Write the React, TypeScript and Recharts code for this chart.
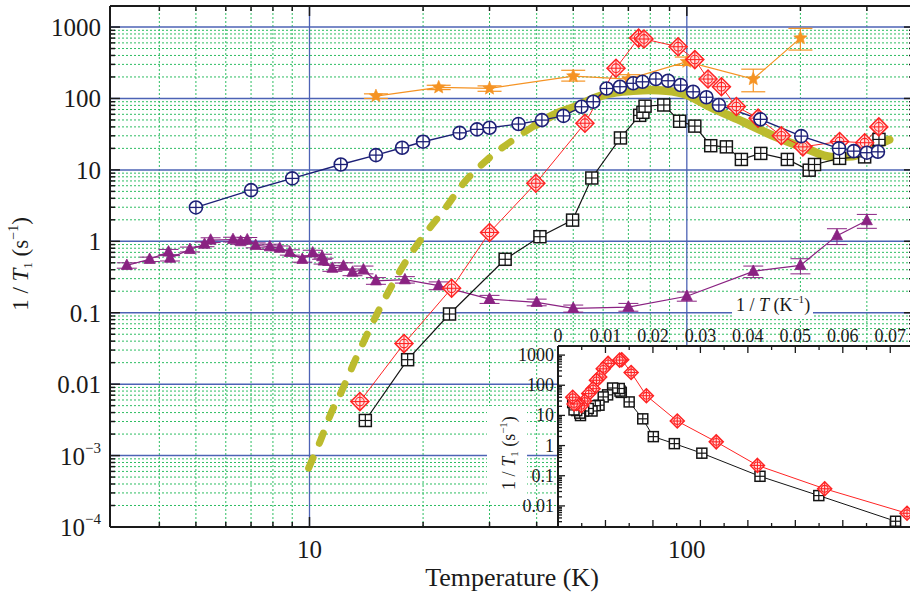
import React from 'react';
import { ComposedChart, Line, XAxis, YAxis, ReferenceLine, ErrorBar } from 'recharts';

const FONT = '"Liberation Serif", "Times New Roman", Times, serif';
const INK = '#1a1a1a';
const NAVY = '#1d2077';
const PURPLE = '#8a2282';
const ORANGE = '#f59323';
const RED = '#ff2424';
const BLACK = '#151515';
const OLIVE = '#bcbb2e';
const GRID_BLUE = '#4d63b5';
const GRID_GREEN = '#2dbd62';

const W = 920;
const H = 603;
const X_DOMAIN: [number, number] = [2.96, 400];
const Y_DOMAIN: [number, number] = [0.0001, 1970];
const IX_DOMAIN: [number, number] = [0, 0.075];
const IY_DOMAIN: [number, number] = [0.002, 2000];

// ---------------- data ----------------
const purpleT = [3.28, 3.77, 4.23, 4.27, 4.82, 5.27, 5.47, 6.27, 6.57, 6.84, 7.2, 7.85, 8.34, 8.87, 9.57, 10.2, 10.8, 10.9, 11.5, 12.3, 13.0, 13.9, 15.0, 17.9, 22.0, 30, 40, 50, 70, 100, 150, 200, 250, 300];
const purpleY = [0.46, 0.56, 0.71, 0.58, 0.77, 0.91, 1.04, 1.06, 0.99, 1.05, 0.88, 0.84, 0.8, 0.7, 0.56, 0.69, 0.61, 0.53, 0.42, 0.45, 0.37, 0.4, 0.28, 0.29, 0.24, 0.155, 0.14, 0.115, 0.12, 0.17, 0.38, 0.46, 1.2, 1.95];
const purpleErr = [0.04, 0.04, 0.06, 0.05, 0.06, 0.07, 0.08, 0.08, 0.08, 0.08, 0.07, 0.07, 0.06, 0.06, 0.05, 0.06, 0.05, 0.05, 0.04, 0.05, 0.04, 0.05, 0.03, 0.03, 0.03, 0.02, 0.015, 0.013, 0.015, 0.025, 0.07, 0.11, 0.3, 0.43];

const navyT = [5.0, 7.0, 9.0, 12.1, 15.0, 17.6, 20.0, 25.0, 27.8, 30.0, 35.8, 41.3, 47.1, 52.6, 56.5, 61.3, 66.5, 72.1, 76.3, 82.8, 89.2, 96.3, 103.9, 112.7, 121.6, 156.7, 201, 253, 277, 300, 321];
const navyY = [2.98, 5.2, 7.6, 11.9, 16.1, 20.4, 24.8, 33, 36.9, 38.9, 43.8, 49.8, 57, 76.5, 90, 138, 146, 163, 171, 187, 177, 154, 124, 104, 81, 51, 29.7, 20, 18.3, 17.4, 17.9];

const orangeT = [15, 22, 30, 50, 70, 100, 150, 200];
const orangeY = [108, 143, 138, 206, 187, 327, 187, 700];
const orangeErrLo = [8, 10, 12, 31, 22, 37, 63, 224];
const orangeErrHi = [8, 10, 12, 42, 28, 53, 70, 258];

const redT = [13.6, 17.8, 23.8, 30.0, 39.8, 53.7, 64.9, 74.5, 77, 94.8, 105, 113.8, 123.5, 135.3, 154.5, 178, 203, 254, 296, 322.7];
const redY = [0.0057, 0.037, 0.22, 1.33, 6.5, 45, 265, 700, 680, 530, 350, 187, 146, 77, 53, 30, 21, 25, 24, 40];

const blackT = [14.06, 18.2, 23.5, 33.0, 40.8, 49.8, 56, 66.7, 75, 76.5, 77.5, 86.9, 95.7, 105, 115.7, 127.3, 139.5, 157, 184.7, 211, 218, 254, 296, 323];
const blackY = [0.0031, 0.022, 0.096, 0.56, 1.16, 1.98, 7.7, 28, 58, 64, 78, 81, 48, 41, 21.8, 21, 14, 17, 14, 9.9, 11.9, 14.5, 15.2, 26.7];

const oliveDashT = [9.95, 10.7, 11.4, 12.2, 13.1, 16.1, 18.1, 20.3, 22.7, 25.6, 29.5, 34.8, 39.7];
const oliveDashY = [0.00067, 0.00164, 0.0039, 0.0082, 0.0195, 0.186, 0.546, 1.29, 2.73, 6.5, 13.7, 26.7, 42.4];
const oliveSolidT = [39.7, 44.3, 51, 58.9, 65.1, 72, 80, 88.2, 100, 115, 141, 172, 206.6, 242, 275, 311, 344];
const oliveSolidY = [42.4, 58.6, 78, 108, 122, 128, 131, 128, 112, 76.5, 47, 29, 20, 15.2, 15.5, 21, 26.5];

// ---------------- ticks ----------------
const MULT = [2, 3, 4, 5, 6, 7, 8, 9];
const mainYMajor = [0.0001, 0.001, 0.01, 0.1, 1, 10, 100, 1000];
const mainYLabels = [['10', '−4'], ['10', '−3'], ['0.01', ''], ['0.1', ''], ['1', ''], ['10', ''], ['100', ''], ['1000', '']];
const mainYMinor = mainYMajor.flatMap((d) => MULT.map((m) => Number((d * m).toPrecision(2)))).filter((v) => v < 1970);
const mainYTicks = [...mainYMajor, ...mainYMinor].sort((a, b) => a - b);

const mainXMajor = [10, 100];
const mainXLabels = ['10', '100'];
const mainXMinor = [4, 5, 6, 7, 8, 9, 20, 30, 40, 50, 60, 70, 80, 90, 200, 300];
const mainXTicks = [...mainXMajor, ...mainXMinor].sort((a, b) => a - b);

const insetXMajor = [0, 0.01, 0.02, 0.03, 0.04, 0.05, 0.06, 0.07];
const insetXLabels = ['0', '0.01', '0.02', '0.03', '0.04', '0.05', '0.06', '0.07'];
const insetXMinor = [0.005, 0.015, 0.025, 0.035, 0.045, 0.055, 0.065];
const insetXTicks = [...insetXMajor, ...insetXMinor].sort((a, b) => a - b);

const insetYMajor = [0.01, 0.1, 1, 10, 100, 1000];
const insetYLabels = ['0.01', '0.1', '1', '10', '100', '1000'];
const insetYMinor = [0.001, ...insetYMajor].flatMap((d) => MULT.map((m) => Number((d * m).toPrecision(2)))).filter((v) => v > 0.002 && v < 2000);
const insetYTicks = [...insetYMajor, ...insetYMinor].sort((a, b) => a - b);

// ---------------- series tables ----------------
const purpleData = purpleT.map((x, i) => ({ x, y: purpleY[i], err: purpleErr[i] }));
const navyData = navyT.map((x, i) => ({ x, y: navyY[i] }));
const orangeData = orangeT.map((x, i) => ({ x, y: orangeY[i], err: [orangeErrLo[i], orangeErrHi[i]] }));
const redData = redT.map((x, i) => ({ x, y: redY[i] }));
const blackData = blackT.map((x, i) => ({ x, y: blackY[i] }));
const oliveDashData = oliveDashT.map((x, i) => ({ x, y: oliveDashY[i] }));
const oliveSolidData = oliveSolidT.map((x, i) => ({ x, y: oliveSolidY[i] }));
const redInset = redT.map((t, i) => ({ x: 1 / t, y: redY[i] }));
const blackInset = blackT.map((t, i) => ({ x: 1 / t, y: blackY[i] }));

const idxOf = (v: number, arr: number[]) =>
  arr.findIndex((a) => Math.abs(a - v) <= 1e-6 * Math.abs(a) + 1e-12);

// ---------------- markers ----------------
function CircPlus({ cx, cy, r }: any) {
  return (
    <g>
      <circle cx={cx} cy={cy} r={r} fill="#fff" stroke={NAVY} strokeWidth={1.6} />
      <line x1={cx - r} x2={cx + r} y1={cy} y2={cy} stroke={NAVY} strokeWidth={1.3} />
      <line x1={cx} x2={cx} y1={cy - r} y2={cy + r} stroke={NAVY} strokeWidth={1.3} />
    </g>
  );
}
function DiamondMark({ cx, cy, r }: any) {
  const pts = `${cx},${cy - r} ${cx + r},${cy} ${cx},${cy + r} ${cx - r},${cy}`;
  return (
    <g>
      <polygon points={pts} fill="#ffe2e2" fillOpacity={0.85} stroke={RED} strokeWidth={1.5} />
      <circle cx={cx} cy={cy} r={r * 0.48} fill="none" stroke={RED} strokeWidth={1.1} />
      <line x1={cx - r} x2={cx + r} y1={cy} y2={cy} stroke={RED} strokeWidth={1.1} />
      <line x1={cx} x2={cx} y1={cy - r} y2={cy + r} stroke={RED} strokeWidth={1.1} />
    </g>
  );
}
function SquareGrid({ cx, cy, r }: any) {
  return (
    <g>
      <rect x={cx - r} y={cy - r} width={2 * r} height={2 * r} fill="#fff" stroke={BLACK} strokeWidth={1.5} />
      <line x1={cx - r} x2={cx + r} y1={cy} y2={cy} stroke={BLACK} strokeWidth={1.2} />
      <line x1={cx} x2={cx} y1={cy - r} y2={cy + r} stroke={BLACK} strokeWidth={1.2} />
    </g>
  );
}
function TriMark({ cx, cy, r }: any) {
  const pts = `${cx},${cy - r * 1.15} ${cx + r},${cy + r * 0.75} ${cx - r},${cy + r * 0.75}`;
  return <polygon points={pts} fill={PURPLE} stroke={PURPLE} strokeWidth={0.8} />;
}
function StarMark({ cx, cy, r }: any) {
  const pts: string[] = [];
  for (let k = 0; k < 10; k++) {
    const rr = k % 2 === 0 ? r : r * 0.45;
    const a = -Math.PI / 2 + (k * Math.PI) / 5;
    pts.push(`${cx + rr * Math.cos(a)},${cy + rr * Math.sin(a)}`);
  }
  return <polygon points={pts.join(' ')} fill={ORANGE} stroke={ORANGE} strokeWidth={0.6} />;
}
const dotOf = (Comp: any, r: number) => (p: any) => {
  if (p == null || p.cx == null || p.cy == null || isNaN(p.cx) || isNaN(p.cy)) return <g key={`e${p?.index}`} />;
  return <Comp key={`d${p.index}`} cx={p.cx} cy={p.cy} r={r} />;
};

// ---------------- ticks renderers ----------------
function MainYTick(props: any) {
  const { x, y, payload } = props;
  const i = idxOf(payload.value, mainYMajor);
  const major = i >= 0;
  return (
    <g>
      <line x1={x} x2={x + (major ? 10 : 5)} y1={y} y2={y} stroke={INK} strokeWidth={1.5} />
      {major && (
        <text x={x - 9} y={y + 9} textAnchor="end" fontFamily={FONT} fontSize={25} fill={INK}>
          <tspan>{mainYLabels[i][0]}</tspan>
          {mainYLabels[i][1] ? (
            <tspan dy={-12} fontSize={15}>
              {mainYLabels[i][1]}
            </tspan>
          ) : null}
        </text>
      )}
    </g>
  );
}
function RightTick(props: any) {
  const { x, y, payload } = props;
  const major = idxOf(payload.value, mainYMajor) >= 0;
  return <line x1={x} x2={x - (major ? 10 : 5)} y1={y} y2={y} stroke={INK} strokeWidth={1.5} />;
}
function MainXTick(props: any) {
  const { x, y, payload } = props;
  const i = idxOf(payload.value, mainXMajor);
  const major = i >= 0;
  return (
    <g>
      <line x1={x} x2={x} y1={y} y2={y - (major ? 10 : 5)} stroke={INK} strokeWidth={1.5} />
      {major && (
        <text x={x} y={y + 31} textAnchor="middle" fontFamily={FONT} fontSize={25} fill={INK}>
          {mainXLabels[i]}
        </text>
      )}
    </g>
  );
}
function TopTick(props: any) {
  const { x, y, payload } = props;
  const major = idxOf(payload.value, mainXMajor) >= 0;
  return <line x1={x} x2={x} y1={y} y2={y + (major ? 10 : 5)} stroke={INK} strokeWidth={1.5} />;
}
function InsetTopTick(props: any) {
  const { x, y, payload } = props;
  const i = idxOf(payload.value, insetXMajor);
  const major = i >= 0;
  return (
    <g>
      <line x1={x} x2={x} y1={y} y2={y + (major ? 7 : 4)} stroke={INK} strokeWidth={1.3} />
      {major && (
        <text x={x} y={y - 4} textAnchor="middle" fontFamily={FONT} fontSize={18} fill={INK}>
          {insetXLabels[i]}
        </text>
      )}
    </g>
  );
}
function InsetBotTick(props: any) {
  const { x, y, payload } = props;
  const major = idxOf(payload.value, insetXMajor) >= 0;
  return <line x1={x} x2={x} y1={y} y2={y - (major ? 7 : 4)} stroke={INK} strokeWidth={1.3} />;
}
function InsetYTick(props: any) {
  const { x, y, payload } = props;
  const i = idxOf(payload.value, insetYMajor);
  const major = i >= 0;
  return (
    <g>
      <line x1={x} x2={x + (major ? 7 : 4)} y1={y} y2={y} stroke={INK} strokeWidth={1.3} />
      {major && (
        <text x={x - 4} y={y + 6} textAnchor="end" fontFamily={FONT} fontSize={18} fill={INK}>
          {insetYLabels[i]}
        </text>
      )}
    </g>
  );
}

const axisLine = { stroke: INK, strokeWidth: 2 };
const common = { tickSize: 0, tickMargin: 0, tickLine: false, interval: 0 as const, allowDataOverflow: true };

export default function App() {
  return (
    <div style={{ position: 'absolute', left: 0, top: 0, width: 910, height: 603, overflow: 'hidden', background: '#fff' }}>
      {/* grid layer */}
      <div style={{ position: 'absolute', left: 0, top: 0 }}>
        <ComposedChart width={W} height={H} margin={{ top: 6, right: 6, bottom: 76, left: 110 }}>
          <XAxis hide type="number" scale="log" dataKey="x" domain={X_DOMAIN} allowDataOverflow />
          <YAxis hide type="number" scale="log" domain={Y_DOMAIN} allowDataOverflow />
          {mainYMinor.map((v) => (
            <ReferenceLine key={`gy${v}`} y={v} stroke={GRID_GREEN} strokeDasharray="2 2" strokeWidth={1} />
          ))}
          {mainXMinor.map((v) => (
            <ReferenceLine key={`gx${v}`} x={v} stroke={GRID_GREEN} strokeDasharray="2 2" strokeWidth={1} />
          ))}
          {mainYMajor.map((v) => (
            <ReferenceLine key={`My${v}`} y={v} stroke={GRID_BLUE} strokeWidth={1.5} />
          ))}
          {mainXMajor.map((v) => (
            <ReferenceLine key={`Mx${v}`} x={v} stroke={GRID_BLUE} strokeWidth={1.3} />
          ))}
        </ComposedChart>
      </div>

      {/* main series + axes */}
      <div style={{ position: 'absolute', left: 0, top: 0 }}>
        <ComposedChart width={W} height={H} margin={{ top: 0, right: 0, bottom: 0, left: 0 }}>
          <XAxis type="number" scale="log" dataKey="x" domain={X_DOMAIN} height={76} ticks={mainXTicks} tick={<MainXTick />} axisLine={axisLine} {...common} />
          <XAxis xAxisId="top" orientation="top" type="number" scale="log" dataKey="x" domain={X_DOMAIN} height={6} ticks={mainXTicks} tick={<TopTick />} axisLine={axisLine} {...common} />
          <YAxis type="number" scale="log" domain={Y_DOMAIN} width={110} ticks={mainYTicks} tick={<MainYTick />} axisLine={axisLine} {...common} />
          <YAxis yAxisId="right" orientation="right" type="number" scale="log" domain={Y_DOMAIN} width={6} ticks={mainYTicks} tick={<RightTick />} axisLine={axisLine} {...common} />

          <Line data={oliveDashData} dataKey="y" type="monotone" stroke={OLIVE} strokeWidth={7} strokeLinecap="round" strokeDasharray="11 16" dot={false} activeDot={false} isAnimationActive={false} />
          <Line data={oliveSolidData} dataKey="y" type="monotone" stroke={OLIVE} strokeWidth={8.5} strokeLinecap="round" dot={false} activeDot={false} isAnimationActive={false} />
          <Line data={purpleData} dataKey="y" stroke={PURPLE} strokeWidth={1.2} dot={dotOf(TriMark, 5.5)} activeDot={false} isAnimationActive={false}>
            <ErrorBar dataKey="err" direction="y" width={10} stroke={PURPLE} strokeWidth={1} />
          </Line>
          <Line data={orangeData} dataKey="y" stroke={ORANGE} strokeWidth={1.2} dot={dotOf(StarMark, 7)} activeDot={false} isAnimationActive={false}>
            <ErrorBar dataKey="err" direction="y" width={12} stroke={ORANGE} strokeWidth={1.2} />
          </Line>
          <Line data={blackData} dataKey="y" stroke={BLACK} strokeWidth={1.2} dot={dotOf(SquareGrid, 6)} activeDot={false} isAnimationActive={false} />
          <Line data={redData} dataKey="y" stroke={RED} strokeWidth={1} dot={dotOf(DiamondMark, 9)} activeDot={false} isAnimationActive={false} />
          <Line data={navyData} dataKey="y" stroke={NAVY} strokeWidth={1.4} dot={dotOf(CircPlus, 6.5)} activeDot={false} isAnimationActive={false} />
        </ComposedChart>
      </div>

      {/* inset background */}
      <div style={{ position: 'absolute', left: 558, top: 346, width: 360, height: 181, background: '#fff' }} />

      {/* inset chart */}
      <div style={{ position: 'absolute', left: 0, top: 0 }}>
        <ComposedChart width={W} height={H} margin={{ top: 306, right: 6, bottom: 46, left: 508 }}>
          <XAxis xAxisId="t" orientation="top" type="number" dataKey="x" domain={IX_DOMAIN} height={40} ticks={insetXTicks} tick={<InsetTopTick />} axisLine={axisLine} {...common} />
          <XAxis xAxisId="b" orientation="bottom" type="number" dataKey="x" domain={IX_DOMAIN} height={30} ticks={insetXTicks} tick={<InsetBotTick />} axisLine={axisLine} {...common} />
          <YAxis type="number" scale="log" domain={IY_DOMAIN} width={50} ticks={insetYTicks} tick={<InsetYTick />} axisLine={axisLine} {...common} />
          <Line xAxisId="t" data={blackInset} dataKey="y" stroke={BLACK} strokeWidth={1} dot={dotOf(SquareGrid, 5)} activeDot={false} isAnimationActive={false} />
          <Line xAxisId="t" data={redInset} dataKey="y" stroke={RED} strokeWidth={1} dot={dotOf(DiamondMark, 7)} activeDot={false} isAnimationActive={false} />
        </ComposedChart>
      </div>

      {/* titles */}
      <svg width={910} height={603} style={{ position: 'absolute', left: 0, top: 0, pointerEvents: 'none' }}>
        <text x={512} y={586} textAnchor="middle" fontFamily={FONT} fontSize={26} fill={INK}>
          Temperature (K)
        </text>
        <text transform="translate(28,264) rotate(-90)" textAnchor="middle" fontFamily={FONT} fontSize={23} fill={INK}>
          <tspan>1 / </tspan>
          <tspan fontStyle="italic">T</tspan>
          <tspan fontSize={13} dy={4}>1</tspan>
          <tspan dy={-4}> (s</tspan>
          <tspan fontSize={14} dy={-10}>−1</tspan>
          <tspan dy={10}>)</tspan>
        </text>

        <rect x={487} y={406} width={40} height={94} fill="#fff" />
        <text transform="translate(515,453) rotate(-90)" textAnchor="middle" fontFamily={FONT} fontSize={18} fill={INK}>
          <tspan>1 / </tspan>
          <tspan fontStyle="italic">T</tspan>
          <tspan fontSize={11} dy={3}>1</tspan>
          <tspan dy={-3}> (s</tspan>
          <tspan fontSize={11} dy={-8}>−1</tspan>
          <tspan dy={8}>)</tspan>
        </text>

        <rect x={732} y={292} width={81} height={27} fill="#fff" />
        <text x={773} y={311} textAnchor="middle" fontFamily={FONT} fontSize={18} fill={INK}>
          <tspan>1 / </tspan>
          <tspan fontStyle="italic">T</tspan>
          <tspan> (K</tspan>
          <tspan fontSize={11} dy={-8}>−1</tspan>
          <tspan dy={8}>)</tspan>
        </text>
      </svg>
    </div>
  );
}
